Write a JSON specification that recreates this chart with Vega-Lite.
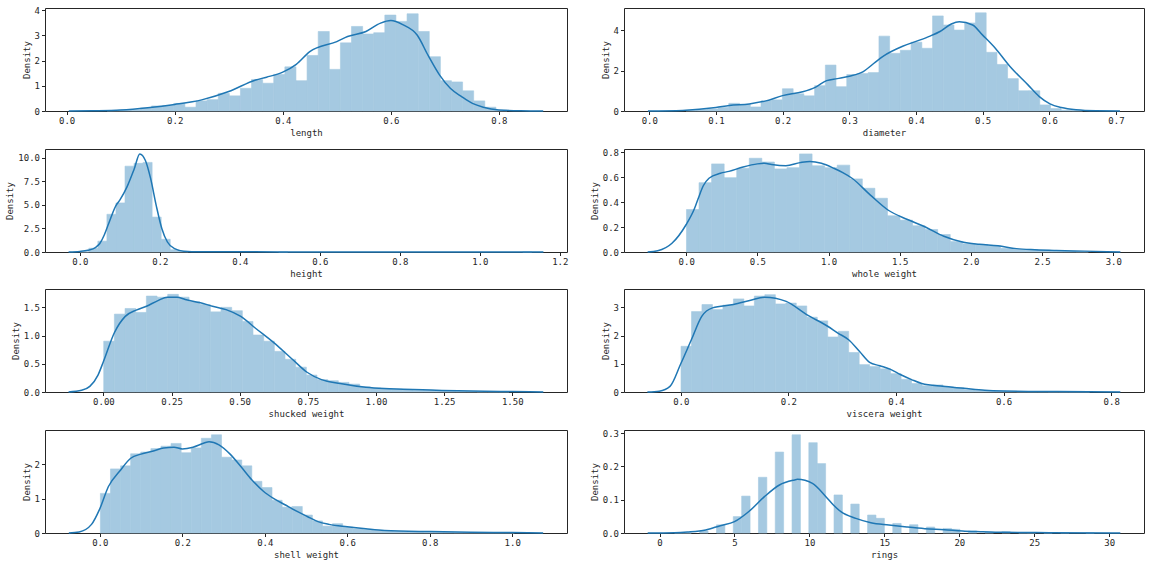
{
"$schema": "https://vega.github.io/schema/vega-lite/v6.json",
"padding": {"left": 5, "top": 5, "right": 0, "bottom": 0},
"background": "white",
"config": {
  "view": {"stroke": "#262626", "strokeWidth": 1},
  "axis": {"grid": false, "domain": false, "tickColor": "#262626", "tickSize": 3.5, "labelFont": "DejaVu Sans Mono", "labelFontSize": 9, "labelColor": "#262626", "titleFont": "DejaVu Sans Mono", "titleFontSize": 9, "titleFontWeight": "normal", "titleColor": "#262626", "labelPadding": 2, "titlePadding": 3, "labelOverlap": false, "labelFlush": false},
  "rect": {"color": "#a5c9e1", "stroke": "#a5c9e1", "strokeWidth": 0.6},
  "line": {"color": "#1f77b4", "strokeWidth": 1.5, "interpolate": "monotone"}
},
"datasets": {
"bars": [
{"p":"length","a":0.0750,"b":0.0956,"d":0.02},{"p":"length","a":0.0956,"b":0.1161,"d":0.03},{"p":"length","a":0.1161,"b":0.1367,"d":0.05},{"p":"length","a":0.1367,"b":0.1572,"d":0.12},{"p":"length","a":0.1572,"b":0.1778,"d":0.2},{"p":"length","a":0.1778,"b":0.1983,"d":0.22},{"p":"length","a":0.1983,"b":0.2189,"d":0.3},{"p":"length","a":0.2189,"b":0.2394,"d":0.15},{"p":"length","a":0.2394,"b":0.2600,"d":0.4},{"p":"length","a":0.2600,"b":0.2806,"d":0.45},{"p":"length","a":0.2806,"b":0.3011,"d":0.7},{"p":"length","a":0.3011,"b":0.3217,"d":0.6},{"p":"length","a":0.3217,"b":0.3422,"d":0.9},{"p":"length","a":0.3422,"b":0.3628,"d":1.25},{"p":"length","a":0.3628,"b":0.3833,"d":1.1},{"p":"length","a":0.3833,"b":0.4039,"d":1.45},{"p":"length","a":0.4039,"b":0.4244,"d":1.75},{"p":"length","a":0.4244,"b":0.4450,"d":1.2},{"p":"length","a":0.4450,"b":0.4656,"d":2.2},{"p":"length","a":0.4656,"b":0.4861,"d":3.15},{"p":"length","a":0.4861,"b":0.5067,"d":1.65},{"p":"length","a":0.5067,"b":0.5272,"d":2.7},{"p":"length","a":0.5272,"b":0.5478,"d":3.35},{"p":"length","a":0.5478,"b":0.5683,"d":3.05},{"p":"length","a":0.5683,"b":0.5889,"d":3.1},{"p":"length","a":0.5889,"b":0.6094,"d":3.8},{"p":"length","a":0.6094,"b":0.6300,"d":3.55},{"p":"length","a":0.6300,"b":0.6506,"d":3.85},{"p":"length","a":0.6506,"b":0.6711,"d":3.15},{"p":"length","a":0.6711,"b":0.6917,"d":2.15},{"p":"length","a":0.6917,"b":0.7122,"d":1.2},{"p":"length","a":0.7122,"b":0.7328,"d":1.15},{"p":"length","a":0.7328,"b":0.7533,"d":0.8},{"p":"length","a":0.7533,"b":0.7739,"d":0.4},{"p":"length","a":0.7739,"b":0.7944,"d":0.15},{"p":"length","a":0.7944,"b":0.8150,"d":0.03},
{"p":"diameter","a":0.0550,"b":0.0711,"d":0.03},{"p":"diameter","a":0.0711,"b":0.0872,"d":0.07},{"p":"diameter","a":0.0872,"b":0.1032,"d":0.1},{"p":"diameter","a":0.1032,"b":0.1193,"d":0.18},{"p":"diameter","a":0.1193,"b":0.1354,"d":0.38},{"p":"diameter","a":0.1354,"b":0.1515,"d":0.32},{"p":"diameter","a":0.1515,"b":0.1676,"d":0.2},{"p":"diameter","a":0.1676,"b":0.1836,"d":0.5},{"p":"diameter","a":0.1836,"b":0.1997,"d":0.55},{"p":"diameter","a":0.1997,"b":0.2158,"d":1.1},{"p":"diameter","a":0.2158,"b":0.2319,"d":0.85},{"p":"diameter","a":0.2319,"b":0.2480,"d":0.75},{"p":"diameter","a":0.2480,"b":0.2641,"d":1.25},{"p":"diameter","a":0.2641,"b":0.2801,"d":2.27},{"p":"diameter","a":0.2801,"b":0.2962,"d":1.2},{"p":"diameter","a":0.2962,"b":0.3123,"d":1.8},{"p":"diameter","a":0.3123,"b":0.3284,"d":1.85},{"p":"diameter","a":0.3284,"b":0.3445,"d":1.9},{"p":"diameter","a":0.3445,"b":0.3605,"d":3.7},{"p":"diameter","a":0.3605,"b":0.3766,"d":2.85},{"p":"diameter","a":0.3766,"b":0.3927,"d":3.0},{"p":"diameter","a":0.3927,"b":0.4088,"d":3.4},{"p":"diameter","a":0.4088,"b":0.4249,"d":3.1},{"p":"diameter","a":0.4249,"b":0.4409,"d":4.7},{"p":"diameter","a":0.4409,"b":0.4570,"d":4.25},{"p":"diameter","a":0.4570,"b":0.4731,"d":4.0},{"p":"diameter","a":0.4731,"b":0.4892,"d":4.35},{"p":"diameter","a":0.4892,"b":0.5053,"d":4.85},{"p":"diameter","a":0.5053,"b":0.5214,"d":2.9},{"p":"diameter","a":0.5214,"b":0.5374,"d":2.3},{"p":"diameter","a":0.5374,"b":0.5535,"d":1.6},{"p":"diameter","a":0.5535,"b":0.5696,"d":1.0},{"p":"diameter","a":0.5696,"b":0.5857,"d":1.0},{"p":"diameter","a":0.5857,"b":0.6018,"d":0.3},{"p":"diameter","a":0.6018,"b":0.6178,"d":0.12},{"p":"diameter","a":0.6178,"b":0.6339,"d":0.04},{"p":"diameter","a":0.6339,"b":0.6500,"d":0.02},
{"p":"height","a":0.0,"b":0.0226,"d":0.02},{"p":"height","a":0.0226,"b":0.0452,"d":0.4},{"p":"height","a":0.0452,"b":0.0678,"d":1.15},{"p":"height","a":0.0678,"b":0.0904,"d":4.0},{"p":"height","a":0.0904,"b":0.1130,"d":5.2},{"p":"height","a":0.1130,"b":0.1356,"d":9.1},{"p":"height","a":0.1356,"b":0.1582,"d":9.4},{"p":"height","a":0.1582,"b":0.1808,"d":9.5},{"p":"height","a":0.1808,"b":0.2034,"d":3.7},{"p":"height","a":0.2034,"b":0.2260,"d":1.35},{"p":"height","a":0.2260,"b":0.2486,"d":0.25},{"p":"height","a":0.2486,"b":0.2712,"d":0.06},{"p":"height","a":0.4972,"b":0.5198,"d":0.011},{"p":"height","a":1.1074,"b":1.1300,"d":0.011},
{"p":"whole","a":0.0020,"b":0.0902,"d":0.34},{"p":"whole","a":0.0902,"b":0.1785,"d":0.555},{"p":"whole","a":0.1785,"b":0.2667,"d":0.705},{"p":"whole","a":0.2667,"b":0.3549,"d":0.595},{"p":"whole","a":0.3549,"b":0.4432,"d":0.67},{"p":"whole","a":0.4432,"b":0.5314,"d":0.75},{"p":"whole","a":0.5314,"b":0.6196,"d":0.72},{"p":"whole","a":0.6196,"b":0.7079,"d":0.665},{"p":"whole","a":0.7079,"b":0.7961,"d":0.675},{"p":"whole","a":0.7961,"b":0.8843,"d":0.785},{"p":"whole","a":0.8843,"b":0.9726,"d":0.69},{"p":"whole","a":0.9726,"b":1.0608,"d":0.675},{"p":"whole","a":1.0608,"b":1.1490,"d":0.695},{"p":"whole","a":1.1490,"b":1.2373,"d":0.585},{"p":"whole","a":1.2373,"b":1.3255,"d":0.51},{"p":"whole","a":1.3255,"b":1.4137,"d":0.43},{"p":"whole","a":1.4137,"b":1.5020,"d":0.29},{"p":"whole","a":1.5020,"b":1.5902,"d":0.255},{"p":"whole","a":1.5902,"b":1.6784,"d":0.21},{"p":"whole","a":1.6784,"b":1.7667,"d":0.18},{"p":"whole","a":1.7667,"b":1.8549,"d":0.14},{"p":"whole","a":1.8549,"b":1.9431,"d":0.085},{"p":"whole","a":1.9431,"b":2.0314,"d":0.065},{"p":"whole","a":2.0314,"b":2.1196,"d":0.06},{"p":"whole","a":2.1196,"b":2.2078,"d":0.05},{"p":"whole","a":2.2078,"b":2.2961,"d":0.03},{"p":"whole","a":2.2961,"b":2.3843,"d":0.02},{"p":"whole","a":2.3843,"b":2.4725,"d":0.02},{"p":"whole","a":2.4725,"b":2.5608,"d":0.015},{"p":"whole","a":2.5608,"b":2.6490,"d":0.005},{"p":"whole","a":2.6490,"b":2.7372,"d":0.005},{"p":"whole","a":2.7372,"b":2.8255,"d":0.003},
{"p":"shucked","a":0.0010,"b":0.0401,"d":0.9},{"p":"shucked","a":0.0401,"b":0.0793,"d":1.38},{"p":"shucked","a":0.0793,"b":0.1184,"d":1.48},{"p":"shucked","a":0.1184,"b":0.1575,"d":1.41},{"p":"shucked","a":0.1575,"b":0.1967,"d":1.7},{"p":"shucked","a":0.1967,"b":0.2358,"d":1.68},{"p":"shucked","a":0.2358,"b":0.2749,"d":1.73},{"p":"shucked","a":0.2749,"b":0.3141,"d":1.68},{"p":"shucked","a":0.3141,"b":0.3532,"d":1.6},{"p":"shucked","a":0.3532,"b":0.3923,"d":1.55},{"p":"shucked","a":0.3923,"b":0.4315,"d":1.42},{"p":"shucked","a":0.4315,"b":0.4706,"d":1.5},{"p":"shucked","a":0.4706,"b":0.5097,"d":1.44},{"p":"shucked","a":0.5097,"b":0.5488,"d":1.25},{"p":"shucked","a":0.5488,"b":0.5880,"d":1.01},{"p":"shucked","a":0.5880,"b":0.6271,"d":0.9},{"p":"shucked","a":0.6271,"b":0.6662,"d":0.72},{"p":"shucked","a":0.6662,"b":0.7054,"d":0.58},{"p":"shucked","a":0.7054,"b":0.7445,"d":0.44},{"p":"shucked","a":0.7445,"b":0.7836,"d":0.3},{"p":"shucked","a":0.7836,"b":0.8228,"d":0.22},{"p":"shucked","a":0.8228,"b":0.8619,"d":0.2},{"p":"shucked","a":0.8619,"b":0.9010,"d":0.17},{"p":"shucked","a":0.9010,"b":0.9402,"d":0.14},{"p":"shucked","a":0.9402,"b":0.9793,"d":0.09},{"p":"shucked","a":0.9793,"b":1.0184,"d":0.07},{"p":"shucked","a":1.0184,"b":1.0576,"d":0.06},{"p":"shucked","a":1.0576,"b":1.0967,"d":0.05},{"p":"shucked","a":1.0967,"b":1.1358,"d":0.04},{"p":"shucked","a":1.1358,"b":1.1750,"d":0.03},{"p":"shucked","a":1.1750,"b":1.2141,"d":0.03},{"p":"shucked","a":1.2141,"b":1.2532,"d":0.02},{"p":"shucked","a":1.2532,"b":1.2924,"d":0.02},{"p":"shucked","a":1.2924,"b":1.3315,"d":0.01},{"p":"shucked","a":1.3315,"b":1.3706,"d":0.01},{"p":"shucked","a":1.3706,"b":1.4097,"d":0.005},{"p":"shucked","a":1.4097,"b":1.4489,"d":0.005},{"p":"shucked","a":1.4489,"b":1.4880,"d":0.005},
{"p":"viscera","a":0.0005,"b":0.0200,"d":1.62},{"p":"viscera","a":0.0200,"b":0.0394,"d":2.85},{"p":"viscera","a":0.0394,"b":0.0589,"d":3.1},{"p":"viscera","a":0.0589,"b":0.0784,"d":2.92},{"p":"viscera","a":0.0784,"b":0.0979,"d":3.08},{"p":"viscera","a":0.0979,"b":0.1173,"d":3.3},{"p":"viscera","a":0.1173,"b":0.1368,"d":3.05},{"p":"viscera","a":0.1368,"b":0.1563,"d":3.4},{"p":"viscera","a":0.1563,"b":0.1758,"d":3.45},{"p":"viscera","a":0.1758,"b":0.1952,"d":3.12},{"p":"viscera","a":0.1952,"b":0.2147,"d":3.15},{"p":"viscera","a":0.2147,"b":0.2342,"d":3.05},{"p":"viscera","a":0.2342,"b":0.2537,"d":2.65},{"p":"viscera","a":0.2537,"b":0.2731,"d":2.52},{"p":"viscera","a":0.2731,"b":0.2926,"d":1.95},{"p":"viscera","a":0.2926,"b":0.3121,"d":2.15},{"p":"viscera","a":0.3121,"b":0.3316,"d":1.4},{"p":"viscera","a":0.3316,"b":0.3510,"d":0.97},{"p":"viscera","a":0.3510,"b":0.3705,"d":0.9},{"p":"viscera","a":0.3705,"b":0.3900,"d":0.82},{"p":"viscera","a":0.3900,"b":0.4095,"d":0.65},{"p":"viscera","a":0.4095,"b":0.4289,"d":0.45},{"p":"viscera","a":0.4289,"b":0.4484,"d":0.3},{"p":"viscera","a":0.4484,"b":0.4679,"d":0.22},{"p":"viscera","a":0.4679,"b":0.4874,"d":0.25},{"p":"viscera","a":0.4874,"b":0.5068,"d":0.18},{"p":"viscera","a":0.5068,"b":0.5263,"d":0.15},{"p":"viscera","a":0.5263,"b":0.5458,"d":0.08},{"p":"viscera","a":0.5458,"b":0.5653,"d":0.05},{"p":"viscera","a":0.5653,"b":0.5847,"d":0.04},{"p":"viscera","a":0.5847,"b":0.6042,"d":0.03},{"p":"viscera","a":0.6042,"b":0.6237,"d":0.02},{"p":"viscera","a":0.6237,"b":0.6432,"d":0.01},{"p":"viscera","a":0.6432,"b":0.6626,"d":0.01},{"p":"viscera","a":0.6626,"b":0.6821,"d":0.01},{"p":"viscera","a":0.6821,"b":0.7016,"d":0.005},{"p":"viscera","a":0.7016,"b":0.7211,"d":0.005},{"p":"viscera","a":0.7211,"b":0.7405,"d":0.005},{"p":"viscera","a":0.7405,"b":0.7600,"d":0.005},
{"p":"shell","a":0.0015,"b":0.0260,"d":1.15},{"p":"shell","a":0.0260,"b":0.0505,"d":1.86},{"p":"shell","a":0.0505,"b":0.0749,"d":1.95},{"p":"shell","a":0.0749,"b":0.0994,"d":2.3},{"p":"shell","a":0.0994,"b":0.1239,"d":2.35},{"p":"shell","a":0.1239,"b":0.1484,"d":2.45},{"p":"shell","a":0.1484,"b":0.1728,"d":2.52},{"p":"shell","a":0.1728,"b":0.1973,"d":2.6},{"p":"shell","a":0.1973,"b":0.2218,"d":2.33},{"p":"shell","a":0.2218,"b":0.2463,"d":2.47},{"p":"shell","a":0.2463,"b":0.2707,"d":2.75},{"p":"shell","a":0.2707,"b":0.2952,"d":2.85},{"p":"shell","a":0.2952,"b":0.3197,"d":2.2},{"p":"shell","a":0.3197,"b":0.3442,"d":2.12},{"p":"shell","a":0.3442,"b":0.3686,"d":1.95},{"p":"shell","a":0.3686,"b":0.3931,"d":1.5},{"p":"shell","a":0.3931,"b":0.4176,"d":1.32},{"p":"shell","a":0.4176,"b":0.4421,"d":0.95},{"p":"shell","a":0.4421,"b":0.4665,"d":0.75},{"p":"shell","a":0.4665,"b":0.4910,"d":0.77},{"p":"shell","a":0.4910,"b":0.5155,"d":0.52},{"p":"shell","a":0.5155,"b":0.5400,"d":0.35},{"p":"shell","a":0.5400,"b":0.5644,"d":0.2},{"p":"shell","a":0.5644,"b":0.5889,"d":0.27},{"p":"shell","a":0.5889,"b":0.6134,"d":0.17},{"p":"shell","a":0.6134,"b":0.6379,"d":0.12},{"p":"shell","a":0.6379,"b":0.6623,"d":0.1},{"p":"shell","a":0.6623,"b":0.6868,"d":0.07},{"p":"shell","a":0.6868,"b":0.7113,"d":0.05},{"p":"shell","a":0.7113,"b":0.7358,"d":0.04},{"p":"shell","a":0.7358,"b":0.7602,"d":0.03},{"p":"shell","a":0.7602,"b":0.7847,"d":0.03},{"p":"shell","a":0.7847,"b":0.8092,"d":0.02},{"p":"shell","a":0.8092,"b":0.8337,"d":0.02},{"p":"shell","a":0.8337,"b":0.8581,"d":0.02},{"p":"shell","a":0.8581,"b":0.8826,"d":0.01},{"p":"shell","a":0.8826,"b":0.9071,"d":0.01},{"p":"shell","a":0.9071,"b":0.9316,"d":0.01},{"p":"shell","a":0.9316,"b":0.9560,"d":0.01},{"p":"shell","a":0.9560,"b":0.9805,"d":0.01},{"p":"shell","a":0.9805,"b":1.0050,"d":0.01},
{"p":"rings","a":1.0,"b":1.56,"d":0.0004},{"p":"rings","a":1.56,"b":2.12,"d":0.0004},{"p":"rings","a":2.68,"b":3.24,"d":0.0064},{"p":"rings","a":3.8,"b":4.36,"d":0.0244},{"p":"rings","a":4.92,"b":5.48,"d":0.0492},{"p":"rings","a":5.48,"b":6.04,"d":0.1107},{"p":"rings","a":6.6,"b":7.16,"d":0.1672},{"p":"rings","a":7.72,"b":8.28,"d":0.2428},{"p":"rings","a":8.84,"b":9.4,"d":0.2946},{"p":"rings","a":9.96,"b":10.52,"d":0.271},{"p":"rings","a":10.52,"b":11.08,"d":0.2082},{"p":"rings","a":11.64,"b":12.2,"d":0.1141},{"p":"rings","a":12.76,"b":13.32,"d":0.0868},{"p":"rings","a":13.88,"b":14.44,"d":0.0539},{"p":"rings","a":14.44,"b":15.0,"d":0.044},{"p":"rings","a":15.56,"b":16.12,"d":0.0286},{"p":"rings","a":16.68,"b":17.24,"d":0.0248},{"p":"rings","a":17.8,"b":18.36,"d":0.018},{"p":"rings","a":18.92,"b":19.48,"d":0.0137},{"p":"rings","a":19.48,"b":20.04,"d":0.0111},{"p":"rings","a":20.6,"b":21.16,"d":0.006},{"p":"rings","a":21.72,"b":22.28,"d":0.0026},{"p":"rings","a":22.84,"b":23.4,"d":0.0038},{"p":"rings","a":23.96,"b":24.52,"d":0.0009},{"p":"rings","a":24.52,"b":25.08,"d":0.0004},{"p":"rings","a":25.64,"b":26.2,"d":0.0004},{"p":"rings","a":26.76,"b":27.32,"d":0.0009},{"p":"rings","a":28.44,"b":29.0,"d":0.0004}
],
"kde": [
{"p":"length","x":0.004,"y":0},{"p":"length","x":0.05,"y":0.01},{"p":"length","x":0.1,"y":0.04},{"p":"length","x":0.15,"y":0.13},{"p":"length","x":0.2,"y":0.26},{"p":"length","x":0.25,"y":0.44},{"p":"length","x":0.3,"y":0.77},{"p":"length","x":0.35,"y":1.23},{"p":"length","x":0.37,"y":1.34},{"p":"length","x":0.4,"y":1.54},{"p":"length","x":0.425,"y":1.85},{"p":"length","x":0.45,"y":2.35},{"p":"length","x":0.5,"y":2.75},{"p":"length","x":0.52,"y":2.95},{"p":"length","x":0.554,"y":3.15},{"p":"length","x":0.581,"y":3.48},{"p":"length","x":0.6,"y":3.58},{"p":"length","x":0.622,"y":3.42},{"p":"length","x":0.649,"y":3.0},{"p":"length","x":0.669,"y":2.2},{"p":"length","x":0.69,"y":1.43},{"p":"length","x":0.71,"y":0.9},{"p":"length","x":0.731,"y":0.57},{"p":"length","x":0.751,"y":0.3},{"p":"length","x":0.771,"y":0.15},{"p":"length","x":0.8,"y":0.04},{"p":"length","x":0.84,"y":0.008},{"p":"length","x":0.882,"y":0},
{"p":"diameter","x":-0.002,"y":0},{"p":"diameter","x":0.05,"y":0.03},{"p":"diameter","x":0.1,"y":0.17},{"p":"diameter","x":0.12,"y":0.27},{"p":"diameter","x":0.15,"y":0.35},{"p":"diameter","x":0.175,"y":0.5},{"p":"diameter","x":0.2,"y":0.76},{"p":"diameter","x":0.23,"y":0.95},{"p":"diameter","x":0.249,"y":1.17},{"p":"diameter","x":0.266,"y":1.5},{"p":"diameter","x":0.282,"y":1.6},{"p":"diameter","x":0.3,"y":1.72},{"p":"diameter","x":0.321,"y":1.95},{"p":"diameter","x":0.337,"y":2.36},{"p":"diameter","x":0.35,"y":2.69},{"p":"diameter","x":0.38,"y":3.2},{"p":"diameter","x":0.4,"y":3.44},{"p":"diameter","x":0.42,"y":3.69},{"p":"diameter","x":0.436,"y":3.93},{"p":"diameter","x":0.453,"y":4.3},{"p":"diameter","x":0.465,"y":4.41},{"p":"diameter","x":0.485,"y":4.25},{"p":"diameter","x":0.5,"y":3.75},{"p":"diameter","x":0.519,"y":3.1},{"p":"diameter","x":0.541,"y":2.2},{"p":"diameter","x":0.568,"y":1.29},{"p":"diameter","x":0.585,"y":0.71},{"p":"diameter","x":0.601,"y":0.35},{"p":"diameter","x":0.618,"y":0.17},{"p":"diameter","x":0.64,"y":0.06},{"p":"diameter","x":0.67,"y":0.01},{"p":"diameter","x":0.706,"y":0},
{"p":"height","x":-0.028,"y":0},{"p":"height","x":0.0,"y":0.06},{"p":"height","x":0.02,"y":0.18},{"p":"height","x":0.04,"y":0.5},{"p":"height","x":0.05,"y":0.9},{"p":"height","x":0.06,"y":1.7},{"p":"height","x":0.072,"y":3.0},{"p":"height","x":0.09,"y":4.9},{"p":"height","x":0.1,"y":5.5},{"p":"height","x":0.118,"y":6.9},{"p":"height","x":0.136,"y":8.8},{"p":"height","x":0.15,"y":10.4},{"p":"height","x":0.164,"y":9.7},{"p":"height","x":0.177,"y":7.8},{"p":"height","x":0.191,"y":4.95},{"p":"height","x":0.205,"y":2.5},{"p":"height","x":0.219,"y":1.06},{"p":"height","x":0.237,"y":0.35},{"p":"height","x":0.26,"y":0.08},{"p":"height","x":0.3,"y":0.02},{"p":"height","x":0.5,"y":0.012},{"p":"height","x":0.55,"y":0.008},{"p":"height","x":0.8,"y":0.005},{"p":"height","x":1.159,"y":0},
{"p":"whole","x":-0.271,"y":0},{"p":"whole","x":-0.2,"y":0.01},{"p":"whole","x":-0.1,"y":0.07},{"p":"whole","x":0.0,"y":0.22},{"p":"whole","x":0.059,"y":0.35},{"p":"whole","x":0.085,"y":0.43},{"p":"whole","x":0.12,"y":0.53},{"p":"whole","x":0.16,"y":0.59},{"p":"whole","x":0.24,"y":0.63},{"p":"whole","x":0.3,"y":0.645},{"p":"whole","x":0.4,"y":0.68},{"p":"whole","x":0.5,"y":0.705},{"p":"whole","x":0.55,"y":0.71},{"p":"whole","x":0.6,"y":0.7},{"p":"whole","x":0.7,"y":0.69},{"p":"whole","x":0.8,"y":0.715},{"p":"whole","x":0.87,"y":0.725},{"p":"whole","x":0.95,"y":0.71},{"p":"whole","x":1.037,"y":0.67},{"p":"whole","x":1.1,"y":0.635},{"p":"whole","x":1.165,"y":0.59},{"p":"whole","x":1.294,"y":0.455},{"p":"whole","x":1.42,"y":0.334},{"p":"whole","x":1.55,"y":0.262},{"p":"whole","x":1.68,"y":0.2},{"p":"whole","x":1.81,"y":0.126},{"p":"whole","x":1.94,"y":0.08},{"p":"whole","x":2.06,"y":0.062},{"p":"whole","x":2.19,"y":0.05},{"p":"whole","x":2.32,"y":0.027},{"p":"whole","x":2.45,"y":0.018},{"p":"whole","x":2.6,"y":0.012},{"p":"whole","x":2.8,"y":0.007},{"p":"whole","x":3.05,"y":0},
{"p":"shucked","x":-0.128,"y":0},{"p":"shucked","x":-0.08,"y":0.03},{"p":"shucked","x":-0.05,"y":0.1},{"p":"shucked","x":-0.02,"y":0.3},{"p":"shucked","x":0.0,"y":0.54},{"p":"shucked","x":0.04,"y":1.05},{"p":"shucked","x":0.08,"y":1.34},{"p":"shucked","x":0.12,"y":1.45},{"p":"shucked","x":0.158,"y":1.52},{"p":"shucked","x":0.2,"y":1.62},{"p":"shucked","x":0.235,"y":1.68},{"p":"shucked","x":0.27,"y":1.68},{"p":"shucked","x":0.3,"y":1.64},{"p":"shucked","x":0.356,"y":1.58},{"p":"shucked","x":0.4,"y":1.52},{"p":"shucked","x":0.45,"y":1.46},{"p":"shucked","x":0.504,"y":1.34},{"p":"shucked","x":0.558,"y":1.13},{"p":"shucked","x":0.626,"y":0.87},{"p":"shucked","x":0.693,"y":0.58},{"p":"shucked","x":0.747,"y":0.35},{"p":"shucked","x":0.8,"y":0.22},{"p":"shucked","x":0.869,"y":0.15},{"p":"shucked","x":0.963,"y":0.083},{"p":"shucked","x":1.03,"y":0.06},{"p":"shucked","x":1.1,"y":0.05},{"p":"shucked","x":1.2,"y":0.035},{"p":"shucked","x":1.3,"y":0.02},{"p":"shucked","x":1.4,"y":0.012},{"p":"shucked","x":1.5,"y":0.007},{"p":"shucked","x":1.614,"y":0},
{"p":"viscera","x":-0.062,"y":0},{"p":"viscera","x":-0.04,"y":0.03},{"p":"viscera","x":-0.02,"y":0.2},{"p":"viscera","x":0.0,"y":1.0},{"p":"viscera","x":0.0197,"y":1.85},{"p":"viscera","x":0.039,"y":2.68},{"p":"viscera","x":0.059,"y":2.98},{"p":"viscera","x":0.098,"y":3.1},{"p":"viscera","x":0.13,"y":3.25},{"p":"viscera","x":0.156,"y":3.36},{"p":"viscera","x":0.196,"y":3.21},{"p":"viscera","x":0.234,"y":2.74},{"p":"viscera","x":0.273,"y":2.33},{"p":"viscera","x":0.292,"y":2.09},{"p":"viscera","x":0.312,"y":1.85},{"p":"viscera","x":0.332,"y":1.44},{"p":"viscera","x":0.351,"y":1.05},{"p":"viscera","x":0.37,"y":0.93},{"p":"viscera","x":0.39,"y":0.8},{"p":"viscera","x":0.409,"y":0.61},{"p":"viscera","x":0.429,"y":0.44},{"p":"viscera","x":0.448,"y":0.3},{"p":"viscera","x":0.487,"y":0.2},{"p":"viscera","x":0.526,"y":0.13},{"p":"viscera","x":0.565,"y":0.06},{"p":"viscera","x":0.6,"y":0.035},{"p":"viscera","x":0.7,"y":0.015},{"p":"viscera","x":0.817,"y":0},
{"p":"shell","x":-0.075,"y":0},{"p":"shell","x":-0.05,"y":0.03},{"p":"shell","x":-0.02,"y":0.25},{"p":"shell","x":0.0,"y":0.7},{"p":"shell","x":0.021,"y":1.35},{"p":"shell","x":0.048,"y":1.79},{"p":"shell","x":0.075,"y":2.17},{"p":"shell","x":0.1,"y":2.29},{"p":"shell","x":0.13,"y":2.38},{"p":"shell","x":0.155,"y":2.47},{"p":"shell","x":0.18,"y":2.49},{"p":"shell","x":0.2,"y":2.44},{"p":"shell","x":0.226,"y":2.49},{"p":"shell","x":0.253,"y":2.61},{"p":"shell","x":0.265,"y":2.65},{"p":"shell","x":0.289,"y":2.56},{"p":"shell","x":0.316,"y":2.29},{"p":"shell","x":0.342,"y":1.93},{"p":"shell","x":0.369,"y":1.54},{"p":"shell","x":0.396,"y":1.22},{"p":"shell","x":0.422,"y":1.0},{"p":"shell","x":0.449,"y":0.82},{"p":"shell","x":0.476,"y":0.64},{"p":"shell","x":0.503,"y":0.48},{"p":"shell","x":0.529,"y":0.33},{"p":"shell","x":0.556,"y":0.25},{"p":"shell","x":0.6,"y":0.18},{"p":"shell","x":0.645,"y":0.12},{"p":"shell","x":0.69,"y":0.07},{"p":"shell","x":0.8,"y":0.04},{"p":"shell","x":0.9,"y":0.025},{"p":"shell","x":1.0,"y":0.012},{"p":"shell","x":1.075,"y":0},
{"p":"rings","x":-0.79,"y":0},{"p":"rings","x":1.0,"y":0.001},{"p":"rings","x":1.86,"y":0.003},{"p":"rings","x":3.08,"y":0.009},{"p":"rings","x":4.05,"y":0.022},{"p":"rings","x":5.0,"y":0.034},{"p":"rings","x":6.0,"y":0.066},{"p":"rings","x":7.0,"y":0.109},{"p":"rings","x":8.0,"y":0.144},{"p":"rings","x":9.0,"y":0.159},{"p":"rings","x":9.2,"y":0.161},{"p":"rings","x":10.2,"y":0.149},{"p":"rings","x":11.1,"y":0.109},{"p":"rings","x":11.6,"y":0.084},{"p":"rings","x":12.1,"y":0.064},{"p":"rings","x":13.1,"y":0.044},{"p":"rings","x":14.1,"y":0.031},{"p":"rings","x":15.3,"y":0.024},{"p":"rings","x":16.5,"y":0.018},{"p":"rings","x":17.7,"y":0.013},{"p":"rings","x":19.0,"y":0.01},{"p":"rings","x":20.2,"y":0.006},{"p":"rings","x":21.4,"y":0.004},{"p":"rings","x":23.0,"y":0.002},{"p":"rings","x":26.0,"y":0.001},{"p":"rings","x":30.74,"y":0}
]
},
"columns": 2,
"spacing": {"row": 9, "column": 20},
"concat": [
{"width": 522, "height": 103, "layer": [
 {"data": {"name": "bars"}, "transform": [{"filter": "datum.p === 'length'"}], "mark": "rect",
  "encoding": {"x": {"field": "a", "type": "quantitative", "scale": {"domain": [-0.040, 0.926], "nice": false, "zero": false}, "axis": {"values": [0,0.2,0.4,0.6,0.8], "format": ".1f", "title": "length"}}, "x2": {"field": "b"},
   "y": {"field": "d", "type": "quantitative", "scale": {"domain": [0, 4.08], "nice": false}, "axis": {"values": [0,1,2,3,4], "format": "d", "title": "Density"}}, "y2": {"datum": 0}}},
 {"data": {"name": "kde"}, "transform": [{"filter": "datum.p === 'length'"}], "mark": "line",
  "encoding": {"x": {"field": "x", "type": "quantitative", "axis": {"values": [0,0.2,0.4,0.6,0.8], "format": ".1f", "title": "length"}}, "y": {"field": "y", "type": "quantitative", "axis": {"values": [0,1,2,3,4], "format": "d", "title": "Density"}}}}
]},
{"width": 520, "height": 103, "layer": [
 {"data": {"name": "bars"}, "transform": [{"filter": "datum.p === 'diameter'"}], "mark": "rect",
  "encoding": {"x": {"field": "a", "type": "quantitative", "scale": {"domain": [-0.0379, 0.742], "nice": false, "zero": false}, "axis": {"values": [0,0.1,0.2,0.3,0.4,0.5,0.6,0.7], "format": ".1f", "title": "diameter"}}, "x2": {"field": "b"},
   "y": {"field": "d", "type": "quantitative", "scale": {"domain": [0, 5.09], "nice": false}, "axis": {"values": [0,2,4], "format": "d", "title": "Density"}}, "y2": {"datum": 0}}},
 {"data": {"name": "kde"}, "transform": [{"filter": "datum.p === 'diameter'"}], "mark": "line",
  "encoding": {"x": {"field": "x", "type": "quantitative", "axis": {"values": [0,0.1,0.2,0.3,0.4,0.5,0.6,0.7], "format": ".1f", "title": "diameter"}}, "y": {"field": "y", "type": "quantitative", "axis": {"values": [0,2,4], "format": "d", "title": "Density"}}}}
]},
{"width": 522, "height": 103, "layer": [
 {"data": {"name": "bars"}, "transform": [{"filter": "datum.p === 'height'"}], "mark": "rect",
  "encoding": {"x": {"field": "a", "type": "quantitative", "scale": {"domain": [-0.087, 1.218], "nice": false, "zero": false}, "axis": {"values": [0,0.2,0.4,0.6,0.8,1.0,1.2], "format": ".1f", "title": "height"}}, "x2": {"field": "b"},
   "y": {"field": "d", "type": "quantitative", "scale": {"domain": [0, 10.92], "nice": false}, "axis": {"values": [0,2.5,5,7.5,10], "format": ".1f", "title": "Density"}}, "y2": {"datum": 0}}},
 {"data": {"name": "kde"}, "transform": [{"filter": "datum.p === 'height'"}], "mark": "line",
  "encoding": {"x": {"field": "x", "type": "quantitative", "axis": {"values": [0,0.2,0.4,0.6,0.8,1.0,1.2], "format": ".1f", "title": "height"}}, "y": {"field": "y", "type": "quantitative", "axis": {"values": [0,2.5,5,7.5,10], "format": ".1f", "title": "Density"}}}}
]},
{"width": 520, "height": 103, "layer": [
 {"data": {"name": "bars"}, "transform": [{"filter": "datum.p === 'whole'"}], "mark": "rect",
  "encoding": {"x": {"field": "a", "type": "quantitative", "scale": {"domain": [-0.437, 3.216], "nice": false, "zero": false}, "axis": {"values": [0,0.5,1,1.5,2,2.5,3], "format": ".1f", "title": "whole weight"}}, "x2": {"field": "b"},
   "y": {"field": "d", "type": "quantitative", "scale": {"domain": [0, 0.824], "nice": false}, "axis": {"values": [0,0.2,0.4,0.6,0.8], "format": ".1f", "title": "Density"}}, "y2": {"datum": 0}}},
 {"data": {"name": "kde"}, "transform": [{"filter": "datum.p === 'whole'"}], "mark": "line",
  "encoding": {"x": {"field": "x", "type": "quantitative", "axis": {"values": [0,0.5,1,1.5,2,2.5,3], "format": ".1f", "title": "whole weight"}}, "y": {"field": "y", "type": "quantitative", "axis": {"values": [0,0.2,0.4,0.6,0.8], "format": ".1f", "title": "Density"}}}}
]},
{"width": 522, "height": 103, "layer": [
 {"data": {"name": "bars"}, "transform": [{"filter": "datum.p === 'shucked'"}], "mark": "rect",
  "encoding": {"x": {"field": "a", "type": "quantitative", "scale": {"domain": [-0.2145, 1.701], "nice": false, "zero": false}, "axis": {"values": [0,0.25,0.5,0.75,1,1.25,1.5], "format": ".2f", "title": "shucked weight"}}, "x2": {"field": "b"},
   "y": {"field": "d", "type": "quantitative", "scale": {"domain": [0, 1.825], "nice": false}, "axis": {"values": [0,0.5,1,1.5], "format": ".1f", "title": "Density"}}, "y2": {"datum": 0}}},
 {"data": {"name": "kde"}, "transform": [{"filter": "datum.p === 'shucked'"}], "mark": "line",
  "encoding": {"x": {"field": "x", "type": "quantitative", "axis": {"values": [0,0.25,0.5,0.75,1,1.25,1.5], "format": ".2f", "title": "shucked weight"}}, "y": {"field": "y", "type": "quantitative", "axis": {"values": [0,0.5,1,1.5], "format": ".1f", "title": "Density"}}}}
]},
{"width": 520, "height": 103, "layer": [
 {"data": {"name": "bars"}, "transform": [{"filter": "datum.p === 'viscera'"}], "mark": "rect",
  "encoding": {"x": {"field": "a", "type": "quantitative", "scale": {"domain": [-0.1055, 0.861], "nice": false, "zero": false}, "axis": {"values": [0,0.2,0.4,0.6,0.8], "format": ".1f", "title": "viscera weight"}}, "x2": {"field": "b"},
   "y": {"field": "d", "type": "quantitative", "scale": {"domain": [0, 3.65], "nice": false}, "axis": {"values": [0,1,2,3], "format": "d", "title": "Density"}}, "y2": {"datum": 0}}},
 {"data": {"name": "kde"}, "transform": [{"filter": "datum.p === 'viscera'"}], "mark": "line",
  "encoding": {"x": {"field": "x", "type": "quantitative", "axis": {"values": [0,0.2,0.4,0.6,0.8], "format": ".1f", "title": "viscera weight"}}, "y": {"field": "y", "type": "quantitative", "axis": {"values": [0,1,2,3], "format": "d", "title": "Density"}}}}
]},
{"width": 522, "height": 103, "layer": [
 {"data": {"name": "bars"}, "transform": [{"filter": "datum.p === 'shell'"}], "mark": "rect",
  "encoding": {"x": {"field": "a", "type": "quantitative", "scale": {"domain": [-0.1328, 1.1328], "nice": false, "zero": false}, "axis": {"values": [0,0.2,0.4,0.6,0.8,1.0], "format": ".1f", "title": "shell weight"}}, "x2": {"field": "b"},
   "y": {"field": "d", "type": "quantitative", "scale": {"domain": [0, 2.99], "nice": false}, "axis": {"values": [0,1,2], "format": "d", "title": "Density"}}, "y2": {"datum": 0}}},
 {"data": {"name": "kde"}, "transform": [{"filter": "datum.p === 'shell'"}], "mark": "line",
  "encoding": {"x": {"field": "x", "type": "quantitative", "axis": {"values": [0,0.2,0.4,0.6,0.8,1.0], "format": ".1f", "title": "shell weight"}}, "y": {"field": "y", "type": "quantitative", "axis": {"values": [0,1,2], "format": "d", "title": "Density"}}}}
]},
{"width": 520, "height": 103, "layer": [
 {"data": {"name": "bars"}, "transform": [{"filter": "datum.p === 'rings'"}], "mark": "rect",
  "encoding": {"x": {"field": "a", "type": "quantitative", "scale": {"domain": [-2.37, 32.32], "nice": false, "zero": false}, "axis": {"values": [0,5,10,15,20,25,30], "format": "d", "title": "rings"}}, "x2": {"field": "b"},
   "y": {"field": "d", "type": "quantitative", "scale": {"domain": [0, 0.309], "nice": false}, "axis": {"values": [0,0.1,0.2,0.3], "format": ".1f", "title": "Density"}}, "y2": {"datum": 0}}},
 {"data": {"name": "kde"}, "transform": [{"filter": "datum.p === 'rings'"}], "mark": "line",
  "encoding": {"x": {"field": "x", "type": "quantitative", "axis": {"values": [0,5,10,15,20,25,30], "format": "d", "title": "rings"}}, "y": {"field": "y", "type": "quantitative", "axis": {"values": [0,0.1,0.2,0.3], "format": ".1f", "title": "Density"}}}}
]}
]
}
